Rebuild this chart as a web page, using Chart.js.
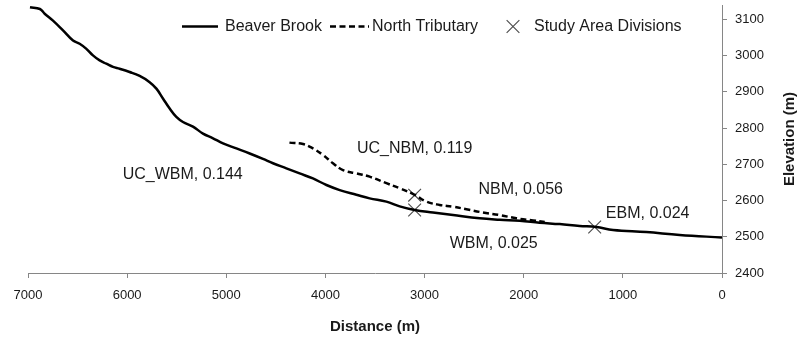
<!DOCTYPE html>
<html lang="en">
<head>
<meta charset="UTF-8">
<title>Longitudinal profile</title>
<script src="https://cdn.jsdelivr.net/npm/chart.js"></script>
<style>
  html, body { margin: 0; padding: 0; background: #fff; }
  canvas { display: block; }
</style>
</head>
<body>
<canvas id="profileChart" width="799" height="341"></canvas>
<script>
// Beaver Brook main stem profile (distance upstream of outlet, m / elevation, m)
const beaverDist = [6980, 6880, 6832, 6748, 6647, 6546, 6479, 6411, 6345, 6277, 6210, 6143, 6076, 5975, 5874, 5773,
  5705, 5639, 5571, 5504, 5437, 5336, 5235, 5134, 5033, 4898, 4764, 4630, 4529, 4394, 4260, 4126, 3990, 3856,
  3688, 3554, 3385, 3251, 3100, 2915, 2713, 2444, 2242, 2041, 1839, 1637, 1435, 1267, 1099, 763, 427, 0];
const beaverElev = [3134, 3129, 3116, 3097, 3070, 3042, 3033, 3019, 3001, 2987, 2978, 2969, 2964, 2955, 2944, 2927,
  2909, 2882, 2854, 2831, 2817, 2804, 2785, 2772, 2758, 2744, 2730, 2715, 2703, 2689, 2675, 2661, 2643, 2629,
  2616, 2606, 2597, 2584, 2574, 2567, 2560, 2551, 2547, 2544, 2539, 2535, 2530, 2527, 2519, 2513, 2505, 2498];

// North Tributary profile
const northDist = [4363, 4226, 4126, 4025, 3924, 3823, 3688, 3554, 3385, 3251, 3100, 2982, 2848, 2713, 2578,
  2411, 2242, 2074, 1906, 1788];
const northElev = [2760, 2756, 2744, 2726, 2703, 2684, 2675, 2666, 2648, 2634, 2616, 2597, 2588, 2583, 2576,
  2567, 2560, 2551, 2545, 2541];

// Study area division points
const divDist = [3100, 3100, 1284];
const divElev = [2615, 2574, 2527];

// Reach labels (name, slope) and where they sit
const reachText = ['UC_WBM, 0.144', 'UC_NBM, 0.119', 'NBM, 0.056', 'EBM, 0.024', 'WBM, 0.025'];
const reachDist = [5440, 3100, 2030, 750, 2303];
const reachElev = [2671, 2744, 2629, 2565, 2481];

const xTicks = [0, 1000, 2000, 3000, 4000, 5000, 6000, 7000];
const yTicks = [2400, 2500, 2600, 2700, 2800, 2900, 3000, 3100];

const FONT = '"Liberation Sans", Arial, sans-serif';
const TEXT = '#1a1a1a';
const AXIS = '#868686';

const toPoints = (xs, ys) => xs.map((v, i) => ({ x: v, y: ys[i] }));

// labels, legend and the right-hand axis title
const overlay = {
  id: 'overlay',
  afterDatasetsDraw(chart) {
    const { ctx, chartArea, scales: { x, y } } = chart;
    ctx.save();
    ctx.fillStyle = TEXT;
    ctx.font = '16px ' + FONT;
    ctx.textAlign = 'center';
    ctx.textBaseline = 'middle';
    reachText.forEach((t, i) => {
      ctx.fillText(t, x.getPixelForValue(reachDist[i]), y.getPixelForValue(reachElev[i]));
    });

    // legend
    const ly = 26.5;
    const ds = chart.data.datasets;
    ctx.textAlign = 'left';
    ctx.lineWidth = 2.5;
    ctx.strokeStyle = ds[0].borderColor;
    ctx.beginPath(); ctx.moveTo(182, ly); ctx.lineTo(218, ly); ctx.stroke();
    ctx.fillText(ds[0].label, 225, ly);
    ctx.setLineDash(ds[1].borderDash);
    ctx.beginPath(); ctx.moveTo(330, ly); ctx.lineTo(369, ly); ctx.stroke();
    ctx.setLineDash([]);
    ctx.fillText(ds[1].label, 372, ly);
    ctx.lineWidth = ds[2].borderWidth;
    ctx.strokeStyle = ds[2].borderColor;
    Chart.helpers.drawPoint(ctx, {
      pointStyle: 'crossRot', radius: ds[2].pointRadius, rotation: 0, borderWidth: ds[2].borderWidth
    }, 513, ly);
    ctx.fillText(ds[2].label, 534, ly);

    // y axis title, reading bottom to top
    ctx.translate(790, (chartArea.top + chartArea.bottom) / 2);
    ctx.rotate(-Math.PI / 2);
    ctx.textAlign = 'center';
    ctx.font = 'bold 15px ' + FONT;
    ctx.fillText('Elevation (m)', 0, 0);
    ctx.restore();
  }
};

new Chart(document.getElementById('profileChart'), {
  type: 'line',
  data: {
    datasets: [
      {
        label: 'Beaver Brook',
        data: toPoints(beaverDist, beaverElev),
        borderColor: '#000',
        borderWidth: 2.5,
        pointRadius: 0,
        tension: 0.4
      },
      {
        label: 'North Tributary',
        data: toPoints(northDist, northElev),
        borderColor: '#000',
        borderWidth: 2.5,
        borderDash: [6, 3.5],
        pointRadius: 0,
        tension: 0.4
      },
      {
        label: 'Study Area Divisions',
        data: toPoints(divDist, divElev),
        showLine: false,
        pointStyle: 'crossRot',
        pointRadius: 9,
        borderColor: '#4a4a4a',
        borderWidth: 1.1
      }
    ]
  },
  options: {
    responsive: false,
    animation: false,
    devicePixelRatio: 1,
    layout: { autoPadding: false, padding: { left: 28, top: 5, right: 0, bottom: 0 } },
    plugins: { legend: { display: false }, tooltip: { enabled: false } },
    scales: {
      x: {
        type: 'linear',
        reverse: true,
        min: 0,
        max: 7000,
        afterBuildTicks: s => { s.ticks = xTicks.map(v => ({ value: v })); },
        afterFit: s => { s.height = 68; s.paddingLeft = 0; s.paddingRight = 0; },
        ticks: {
          color: TEXT, font: { family: FONT, size: 13 }, padding: 10, maxRotation: 0,
          callback: v => String(v)
        },
        grid: { drawOnChartArea: false, tickLength: 5, color: AXIS },
        border: { color: AXIS },
        title: {
          display: true,
          text: 'Distance (m)',
          color: TEXT,
          font: { family: FONT, size: 15, weight: 'bold' },
          padding: { top: 0, bottom: 5 }
        }
      },
      y: {
        position: 'right',
        min: 2400,
        max: 3140,
        afterBuildTicks: s => { s.ticks = yTicks.map(v => ({ value: v })); },
        afterFit: s => { s.width = 77; s.paddingTop = 0; s.paddingBottom = 0; },
        ticks: { color: TEXT, font: { family: FONT, size: 13 }, padding: 8, callback: v => String(v) },
        grid: { drawOnChartArea: false, tickLength: 5, color: AXIS },
        border: { color: AXIS }
      }
    }
  },
  plugins: [overlay]
});
</script>
</body>
</html>
